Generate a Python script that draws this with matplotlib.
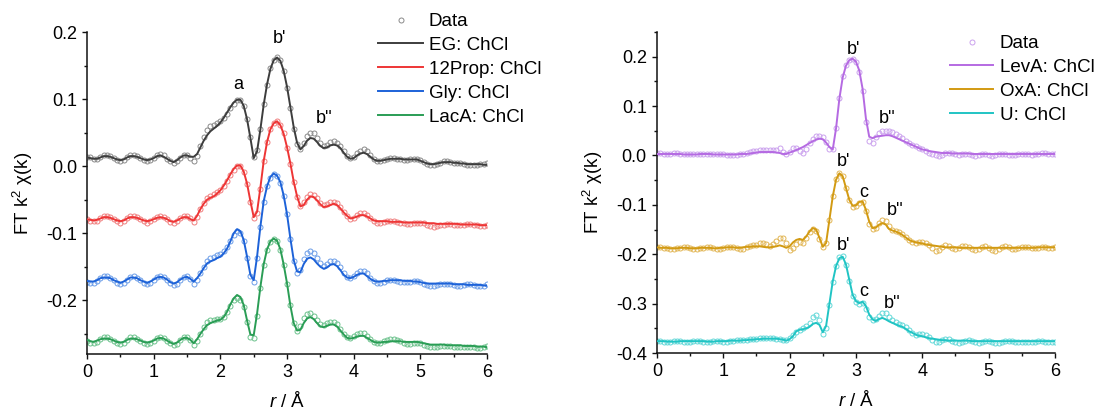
import numpy as np
import matplotlib
matplotlib.use('Agg')
import matplotlib.pyplot as plt
from matplotlib.lines import Line2D
from matplotlib.ticker import MultipleLocator

plt.rcParams['font.family'] = ['Liberation Sans', 'DejaVu Sans']
plt.rcParams['mathtext.fontset'] = 'custom'
plt.rcParams['mathtext.rm'] = 'Liberation Sans'
plt.rcParams['mathtext.it'] = 'Liberation Sans:italic'
plt.rcParams['axes.unicode_minus'] = False

# r grid (Angstrom), step 0.05
r = np.round(np.arange(0, 6.001, 0.05), 2)

# FT k2 chi(k) values, in units of 1e-3 (curves already offset)
eg_fit = [13, 12, 11, 11, 13, 15, 15, 14, 12, 10, 9, 10, 13, 15, 15, 14, 12, 10, 9, 10,
          12, 15, 16, 14, 11, 8, 6, 9, 13, 16, 16, 14, 14, 18, 28, 38, 46, 52, 56, 60,
          65, 72, 80, 88, 95, 99, 99, 90, 70, 42, 12, 22, 55, 92, 122, 145, 158, 162, 157, 142,
          118, 88, 58, 35, 25, 30, 38, 42, 41, 36, 30, 27, 28, 31, 32, 31, 27, 20, 14, 11,
          12, 16, 19, 20, 18, 14, 10, 8, 8, 9, 10, 11, 11, 11, 11, 10, 10, 10, 10, 10,
          8, 6, 4, 3, 3, 4, 5, 6, 6, 6, 5, 5, 4, 4, 3, 3, 3, 3, 3, 2, 2]
eg_data = [14, 13, 11, 11, 14, 17, 17, 15, 12, 9, 7, 9, 13, 17, 17, 15, 12, 9, 7, 9,
           12, 16, 18, 16, 11, 7, 4, 7, 12, 16, 16, 12, 7, 15, 30, 44, 54, 60, 62, 64,
           67, 72, 78, 86, 93, 98, 98, 90, 70, 43, 14, 24, 56, 93, 121, 146, 159, 163, 158, 142,
           116, 86, 56, 33, 26, 34, 45, 50, 49, 42, 34, 30, 32, 36, 37, 35, 30, 22, 15, 12,
           14, 19, 23, 25, 22, 16, 10, 7, 7, 9, 11, 12, 12, 11, 10, 9, 9, 10, 11, 11,
           9, 6, 3, 1, 1, 3, 5, 7, 7, 6, 5, 4, 4, 3, 2, 2, 2, 2, 3, 3, 4]

prop_fit = [-79, -80, -81, -80, -78, -76, -76, -77, -79, -81, -82, -81, -78, -76, -76, -77, -79, -81, -82, -81,
            -79, -77, -76, -77, -79, -82, -83, -81, -78, -76, -76, -79, -81, -74, -64, -56, -50, -47, -45, -41,
            -36, -29, -21, -12, -4, 1, 1, -8, -26, -52, -76, -68, -32, 8, 36, 55, 64, 67, 61, 48,
            28, 4, -23, -45, -60, -58, -50, -45, -46, -51, -57, -61, -60, -58, -56, -58, -63, -69, -74, -78,
            -77, -75, -73, -73, -75, -78, -81, -82, -82, -82, -82, -83, -83, -83, -83, -84, -84, -84, -84, -84,
            -84, -84, -85, -85, -85, -86, -86, -86, -86, -86, -86, -86, -87, -87, -87, -87, -87, -87, -88, -88, -88]
prop_data = [-79, -81, -82, -81, -78, -75, -75, -76, -79, -82, -84, -82, -78, -75, -75, -76, -79, -82, -84, -82,
             -79, -76, -75, -76, -79, -83, -85, -82, -78, -75, -75, -78, -83, -76, -64, -55, -48, -44, -42, -39,
             -35, -29, -22, -13, -5, 0, 0, -9, -27, -53, -78, -70, -34, 7, 36, 56, 65, 67, 62, 49,
             27, 3, -24, -46, -59, -54, -46, -42, -43, -48, -55, -58, -57, -54, -53, -55, -61, -68, -74, -79,
             -77, -73, -70, -70, -73, -78, -82, -84, -84, -83, -82, -82, -82, -83, -84, -85, -86, -86, -85, -84,
             -84, -85, -87, -89, -90, -89, -88, -87, -86, -86, -87, -88, -88, -87, -86, -86, -87, -88, -89, -89, -88]

gly_fit = [-171, -172, -172, -170, -167, -166, -166, -167, -170, -172, -174, -172, -169, -166, -166, -167, -170, -172, -174, -172,
           -169, -166, -165, -166, -169, -173, -175, -173, -169, -166, -165, -168, -172, -167, -160, -152, -145, -142, -140, -137,
           -135, -130, -123, -112, -100, -94, -97, -110, -135, -162, -170, -135, -90, -52, -30, -16, -11, -14, -24, -44,
           -72, -108, -140, -157, -158, -146, -138, -136, -139, -145, -150, -153, -151, -147, -146, -149, -155, -162, -166, -167,
           -165, -162, -160, -160, -164, -168, -171, -172, -172, -171, -171, -170, -170, -170, -170, -171, -171, -171, -172, -172,
           -173, -174, -175, -175, -175, -175, -175, -175, -175, -175, -176, -176, -176, -176, -177, -177, -177, -177, -177, -178, -178]
gly_data = [-172, -174, -174, -171, -167, -164, -164, -166, -170, -174, -176, -174, -169, -165, -164, -166, -170, -174, -176, -174,
            -169, -165, -163, -165, -169, -174, -177, -175, -169, -165, -164, -168, -175, -170, -160, -150, -141, -137, -135, -133,
            -131, -127, -121, -112, -102, -97, -100, -112, -137, -164, -173, -137, -91, -53, -30, -17, -12, -14, -25, -45,
            -72, -108, -141, -159, -155, -138, -129, -127, -130, -137, -145, -149, -146, -142, -141, -144, -151, -159, -165, -167,
            -163, -159, -156, -156, -160, -166, -171, -174, -174, -172, -170, -169, -170, -171, -172, -173, -173, -172, -171, -171,
            -172, -175, -177, -178, -178, -177, -176, -175, -175, -176, -177, -178, -178, -177, -176, -176, -177, -178, -179, -178, -176]

laca_fit = [-259, -261, -262, -260, -258, -257, -257, -258, -260, -262, -263, -262, -259, -257, -257, -258, -260, -262, -263, -262,
            -260, -257, -256, -257, -260, -263, -265, -263, -259, -256, -256, -259, -264, -258, -250, -243, -237, -234, -232, -230,
            -229, -225, -217, -206, -197, -192, -195, -207, -230, -251, -252, -220, -180, -146, -124, -112, -108, -111, -124, -147,
            -175, -208, -234, -245, -244, -234, -227, -225, -228, -234, -239, -240, -238, -236, -236, -239, -245, -251, -256, -257,
            -256, -254, -253, -253, -256, -259, -262, -263, -263, -262, -262, -261, -261, -261, -261, -262, -262, -262, -262, -262,
            -263, -264, -265, -266, -266, -266, -266, -266, -267, -267, -267, -267, -267, -268, -268, -268, -268, -269, -269, -269, -270]
laca_data = [-260, -263, -264, -262, -258, -255, -255, -257, -261, -264, -265, -263, -259, -255, -255, -257, -261, -264, -265, -263,
             -260, -256, -254, -256, -260, -264, -267, -265, -259, -255, -255, -259, -266, -261, -250, -240, -233, -230, -229, -228,
             -228, -225, -218, -208, -200, -196, -199, -210, -232, -254, -256, -224, -182, -147, -125, -113, -109, -112, -125, -148,
             -175, -207, -234, -245, -238, -226, -220, -219, -223, -229, -235, -237, -234, -232, -232, -236, -243, -250, -255, -256,
             -253, -250, -248, -249, -253, -258, -262, -264, -263, -261, -259, -258, -258, -259, -261, -263, -265, -265, -264, -263,
             -264, -266, -268, -270, -270, -269, -268, -268, -268, -268, -269, -269, -269, -269, -269, -269, -270, -271, -271, -270, -268]

leva_fit = [3, 3, 3, 3, 3, 3, 3, 3, 2, 2, 2, 2, 2, 3, 3, 3, 3, 2, 2, 2,
            2, 2, 2, 2, 2, 3, 3, 3, 4, 5, 6, 7, 7, 7, 7, 7, 6, 5, 3, 3,
            6, 8, 11, 14, 17, 21, 25, 29, 32, 34, 33, 26, 17, 12, 55, 115, 158, 182, 193, 196,
            190, 172, 135, 75, 38, 35, 38, 39, 40, 41, 41, 39, 36, 33, 30, 27, 24, 21, 18, 15,
            12, 11, 9, 8, 7, 6, 5, 5, 5, 4, 4, 4, 4, 4, 4, 3, 3, 3, 3, 3,
            3, 3, 3, 3, 3, 3, 3, 3, 3, 3, 3, 3, 3, 3, 3, 3, 3, 3, 3, 3, 3]
leva_data = [4, 4, 3, 3, 3, 4, 4, 3, 2, 2, 2, 3, 3, 3, 3, 3, 2, 2, 2, 2,
             2, 1, 1, 1, 1, 2, 3, 5, 7, 9, 10, 11, 11, 11, 11, 11, 12, 15, 8, 2,
             8, 15, 16, 10, 6, 14, 26, 34, 39, 40, 37, 28, 14, 13, 56, 116, 160, 183, 194, 196,
             190, 170, 130, 68, 30, 26, 38, 46, 49, 50, 50, 47, 44, 39, 35, 30, 26, 22, 19, 16,
             14, 10, 6, 3, 1, -1, 1, 4, 5, 4, 2, 1, 2, 3, 2, 0, -1, 1, 3, 3,
             1, -1, 0, 2, 3, 3, 1, 0, 1, 2, 3, 3, 2, 1, 2, 3, 4, 4, 3, 3, 3]

oxa_fit = [-186, -187, -187, -187, -188, -188, -188, -187, -187, -187, -188, -188, -188, -187, -187, -187, -187, -188, -188, -187,
           -187, -186, -186, -186, -187, -187, -186, -185, -185, -184, -184, -184, -185, -186, -186, -185, -184, -182, -184, -187,
           -184, -176, -171, -169, -171, -164, -154, -147, -150, -167, -185, -177, -130, -83, -49, -36, -42, -66, -90, -102,
           -101, -94, -93, -110, -134, -147, -146, -140, -137, -140, -149, -152, -154, -157, -161, -166, -171, -174, -176, -177,
           -178, -180, -181, -182, -183, -184, -185, -186, -186, -186, -186, -187, -187, -187, -187, -187, -187, -187, -187, -187,
           -187, -187, -187, -187, -187, -187, -187, -187, -187, -187, -187, -187, -187, -187, -187, -186, -186, -186, -186, -186, -186]
oxa_data = [-185, -186, -187, -188, -189, -189, -188, -187, -186, -186, -187, -189, -189, -188, -187, -186, -186, -187, -189, -189,
            -188, -186, -185, -186, -188, -190, -189, -186, -183, -182, -181, -178, -177, -179, -184, -180, -173, -168, -168, -178,
            -191, -187, -180, -176, -178, -168, -155, -148, -152, -170, -186, -178, -130, -82, -48, -35, -41, -66, -91, -104,
            -103, -96, -95, -112, -138, -148, -146, -137, -131, -133, -143, -150, -153, -155, -160, -166, -172, -176, -177, -176,
            -175, -177, -182, -188, -193, -191, -186, -182, -183, -187, -190, -188, -184, -183, -186, -190, -192, -189, -185, -184,
            -187, -191, -193, -190, -186, -184, -186, -189, -190, -188, -186, -185, -186, -188, -188, -187, -186, -186, -187, -187, -186]

u_fit = [-376, -376, -376, -377, -377, -377, -377, -376, -376, -376, -376, -376, -376, -376, -376, -377, -377, -377, -376, -376,
         -376, -376, -375, -375, -375, -375, -374, -374, -373, -373, -372, -372, -371, -371, -371, -371, -371, -372, -373, -375,
         -372, -366, -356, -353, -352, -350, -347, -341, -339, -343, -358, -345, -300, -255, -224, -208, -205, -221, -252, -282,
         -295, -299, -296, -305, -322, -332, -335, -331, -329, -332, -336, -339, -342, -345, -347, -351, -356, -359, -363, -365,
         -366, -368, -370, -371, -372, -373, -374, -374, -375, -375, -375, -375, -375, -375, -375, -376, -376, -376, -376, -376,
         -376, -376, -376, -376, -376, -376, -376, -376, -376, -376, -376, -376, -376, -376, -376, -376, -376, -376, -376, -376, -376]
u_data = [-375, -376, -377, -377, -377, -376, -376, -376, -377, -377, -377, -376, -376, -376, -377, -377, -377, -376, -376, -376,
          -377, -377, -376, -375, -374, -374, -373, -373, -372, -371, -371, -370, -369, -369, -370, -370, -371, -372, -373, -374,
          -370, -363, -357, -354, -350, -346, -340, -328, -323, -333, -362, -350, -302, -256, -223, -206, -204, -222, -254, -284,
          -297, -300, -299, -310, -327, -334, -332, -325, -319, -320, -327, -334, -338, -341, -343, -348, -354, -360, -363, -362,
          -361, -363, -368, -374, -378, -377, -373, -371, -372, -375, -378, -379, -377, -375, -374, -375, -377, -379, -378, -376,
          -375, -377, -379, -379, -377, -375, -375, -376, -377, -378, -378, -377, -377, -377, -377, -376, -376, -377, -378, -378, -377]

left_names = ['EG: ChCl', '12Prop: ChCl', 'Gly: ChCl', 'LacA: ChCl']
left_fits = [eg_fit, prop_fit, gly_fit, laca_fit]
left_data = [eg_data, prop_data, gly_data, laca_data]
left_line_colors = ['#3d3d3d', '#ee3535', '#1d62d8', '#2a9d55']
left_data_colors = ['#8a8a8a', '#f07f7f', '#6b9de8', '#6cc28c']

right_names = ['LevA: ChCl', 'OxA: ChCl', 'U: ChCl']
right_fits = [leva_fit, oxa_fit, u_fit]
right_data = [leva_data, oxa_data, u_data]
right_line_colors = ['#b56ae2', '#d29a12', '#20c4c4']
right_data_colors = ['#cba2ee', '#e2b655', '#62d8d8']

# peak labels: (text, r, value)
left_labels = [('a', 2.27, 0.122), ("b'", 2.88, 0.190), ("b''", 3.56, 0.071)]
right_labels = [("b'", 2.97, 0.214), ("b''", 3.47, 0.074),
                ("b'", 2.81, -0.013), ('c', 3.11, -0.074), ("b''", 3.59, -0.111),
                ("b'", 2.81, -0.183), ('c', 3.12, -0.276), ("b''", 3.55, -0.299)]

FS = 13


def style_axes(ax, ylim, ymajor):
    ax.set_xlim(0, 6)
    ax.set_ylim(*ylim)
    ax.xaxis.set_major_locator(MultipleLocator(1))
    ax.xaxis.set_minor_locator(MultipleLocator(0.5))
    ax.yaxis.set_major_locator(MultipleLocator(ymajor))
    ax.yaxis.set_minor_locator(MultipleLocator(ymajor / 2))
    for s in ['top', 'right']:
        ax.spines[s].set_visible(False)
    for s in ['left', 'bottom']:
        ax.spines[s].set_linewidth(1.1)
        ax.spines[s].set_color('#111111')
    ax.tick_params(which='major', direction='out', length=3.8, width=1.0, labelsize=FS, pad=3.5, color='#111111')
    ax.tick_params(which='minor', direction='out', length=2.0, width=1.0, color='#111111')
    ax.set_xlabel(r'$\mathit{r}$ / Å', fontsize=FS + 0.5)
    ax.set_ylabel(r'FT k$^{2}$ χ(k)', fontsize=FS + 0.5)
    ax.xaxis.set_label_coords(0.5, -0.115)
    ax.yaxis.set_label_coords(-0.13, 0.5)


def draw_panel(ax, fits, datas, line_colors, data_colors):
    for fit, dat, lc, dc in zip(fits, datas, line_colors, data_colors):
        ax.plot(r, np.array(dat) / 1000, 'o', ms=3.6, mfc='none', mec=dc, mew=0.7, zorder=2)
        ax.plot(r, np.array(fit) / 1000, '-', color=lc, lw=1.4, zorder=3)


fig = plt.figure(figsize=(10.99, 4.12), dpi=100)
ax1 = fig.add_axes([0.0792, 0.1408, 0.3640, 0.7815])
ax2 = fig.add_axes([0.5978, 0.1432, 0.3621, 0.7791])

draw_panel(ax1, left_fits, left_data, left_line_colors, left_data_colors)
draw_panel(ax2, right_fits, right_data, right_line_colors, right_data_colors)
style_axes(ax1, (-0.28, 0.2), 0.1)
style_axes(ax2, (-0.4, 0.25), 0.1)

for txt, x, y in left_labels:
    ax1.text(x, y, txt, fontsize=FS, ha='center', va='center')
for txt, x, y in right_labels:
    ax2.text(x, y, txt, fontsize=FS, ha='center', va='center')

# legends
h1 = [Line2D([], [], ls='none', marker='o', ms=3.6, mfc='none', mec=left_data_colors[0], mew=0.7)]
h1 += [Line2D([], [], color=c, lw=1.4) for c in left_line_colors]
fig.legend(h1, ['Data'] + left_names, loc='upper left', bbox_to_anchor=(378 / 1099, 1 - 13 / 412),
           frameon=False, fontsize=FS + 0.5, borderpad=0, borderaxespad=0, handlelength=2.4,
           handletextpad=0.3, labelspacing=0.36)

h2 = [Line2D([], [], ls='none', marker='o', ms=3.6, mfc='none', mec=right_data_colors[0], mew=0.7)]
h2 += [Line2D([], [], color=c, lw=1.4) for c in right_line_colors]
fig.legend(h2, ['Data'] + right_names, loc='upper left', bbox_to_anchor=(950 / 1099, 1 - 35 / 412),
           frameon=False, fontsize=FS + 0.5, borderpad=0, borderaxespad=0, handlelength=2.3,
           handletextpad=0.35, labelspacing=0.36)

fig.savefig('out.png', dpi=100)
